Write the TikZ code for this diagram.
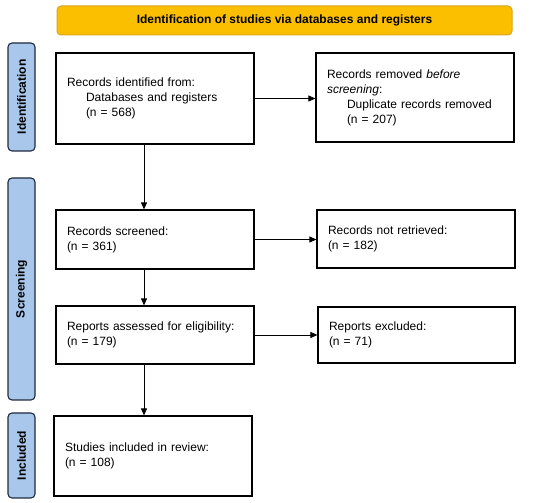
\documentclass[tikz,border=0pt]{standalone}
\usepackage{fontspec}
\setmainfont{Liberation Sans}
\usetikzlibrary{arrows.meta}
\definecolor{hdrfill}{HTML}{FBBF00}
\definecolor{hdrdraw}{HTML}{D9A520}
\definecolor{sidefill}{HTML}{A9C6EB}
\definecolor{sidedraw}{HTML}{1F2A3F}

\begin{document}
\begin{tikzpicture}[x=1pt,y=1pt,
    box/.style={draw,line width=1.2pt,inner xsep=11pt,inner ysep=0pt,align=left,font=\fontsize{12}{15}\selectfont},
    side/.style={draw=sidedraw,fill=sidefill,line width=1.1pt,rounded corners=4pt,rotate=90,font=\bfseries\fontsize{12}{14}\selectfont},
    arr/.style={-{Triangle[length=7pt,width=6pt]},line width=0.8pt}]
        \useasboundingbox (0,0) rectangle (550,503);
        % header
        \node[draw=hdrdraw,fill=hdrfill,line width=1pt,rounded corners=4pt,minimum width=455,minimum height=29,
              font=\bfseries\fontsize{12}{14}\selectfont] (hdr) at (284.5,482.5) {Identification of studies via databases and registers};
        % phase labels
        \foreach \nm/\cy/\len/\lbl in {sid/406/108/Identification, sscr/214/222/Screening, sinc/47.5/85/Included}
            \node[side,minimum width=\len,minimum height=27] (\nm) at (21.5,\cy) {\lbl};
        % boxes
        \node[box,text width=176,minimum height=91] (b1) at (155,404.5)
            {Records identified from:\\\hspace*{19pt}Databases and registers\\\hspace*{19pt}(n = 568)};
        \node[box,text width=176,minimum height=89] (b2) at (415,405.5)
            {Records removed \emph{before}\\\emph{screening}:\\\hspace*{20pt}Duplicate records removed\\\hspace*{20pt}(n = 207)};
        \node[box,text width=176,minimum height=59] (b3) at (155,263.5) {Records screened:\\(n = 361)};
        \node[box,text width=176,minimum height=58] (b4) at (416,264) {Records not retrieved:\\(n = 182)};
        \node[box,text width=176,minimum height=58] (b5) at (155,168) {Reports assessed for eligibility:\\(n = 179)};
        \node[box,text width=175,minimum height=56] (b6) at (416.5,168) {Reports excluded:\\(n = 71)};
        \node[box,text width=176,minimum height=80] (b7) at (153,47) {Studies included in review:\\(n = 108)};
        % connectors
        \draw[arr] (b1.east) -- (b1.east -| b2.west);
        \draw[arr] (b3.east) -- (b3.east -| b4.west);
        \draw[arr] (b5.east) -- (b5.east -| b6.west);
        \draw[arr] ([xshift=-11pt]b1.south) -- ([xshift=-11pt]b3.north);
        \draw[arr] ([xshift=-11pt]b3.south) -- ([xshift=-11pt]b5.north);
        \draw[arr] ([xshift=-11pt]b5.south) -- ([xshift=-11pt]b5.south |- b7.north);
    \end{tikzpicture}
\end{document}
